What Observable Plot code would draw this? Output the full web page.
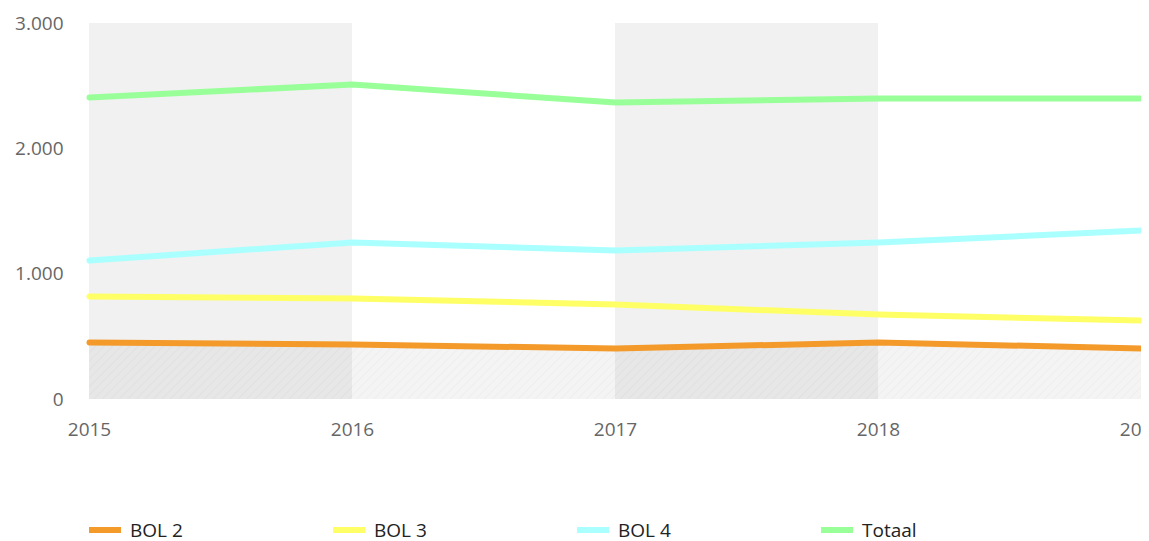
<!DOCTYPE html>
<html><head><meta charset="utf-8">
<script src="https://cdn.jsdelivr.net/npm/d3@7"></script>
<script src="https://cdn.jsdelivr.net/npm/@observablehq/plot@0.6"></script>
<style>
body{margin:0;background:#fff;font-family:"Open Sans",sans-serif;}
#wrap{width:1141px;overflow:hidden;}
#wrap svg{max-width:none !important;}
#legend{display:flex;margin-left:89px;margin-top:68px;height:24px;align-items:center;}
.item{display:flex;align-items:center;width:244px;font-size:19px;color:#222;}
.sw{width:32px;height:6px;margin-right:9px;}
</style></head><body>
<div id="wrap"></div>
<div id="legend"></div>
<script>
const years = [2015, 2016, 2017, 2018, 2019];
const series = ["BOL 2", "BOL 3", "BOL 4", "Totaal"];
const colors = ["#f39a2b", "#ffff66", "#aaffff", "#99ff99"];
const bol2 = [455, 439, 407, 455, 407];
const bol3 = [822, 806, 758, 678, 630];
const bol4 = [1109, 1253, 1189, 1253, 1348];
const totaal = [2410, 2513, 2370, 2402, 2402];
const bandStarts = [2015, 2017];
const yTicks = [0, 1000, 2000, 3000];

const values = [bol2, bol3, bol4, totaal];
const rows = [];
series.forEach((s, i) => years.forEach((y, j) => rows.push({series: s, year: y, value: values[i][j]})));
const bands = bandStarts.map(b => ({x1: b, x2: b + 1}));
const area = years.map((y, j) => ({year: y, value: bol2[j]}));
const fmt = d => d3.format(",")(d).replace(/,/g, ".");

const plot = Plot.plot({
  width: 1149, height: 450,
  marginLeft: 89, marginRight: 8, marginTop: 23, marginBottom: 51,
  style: {fontSize: "19px", fontFamily: "'Open Sans', sans-serif", color: "#666", background: "transparent"},
  x: {domain: [2015, 2019], ticks: years, tickFormat: d => String(d), tickSize: 0, tickPadding: 23, label: null},
  y: {domain: [0, 3000], ticks: yTicks, tickFormat: fmt, tickSize: 0, tickPadding: 26, label: null},
  color: {domain: series, range: colors},
  marks: [
    Plot.rect(bands, {x1: "x1", x2: "x2", y1: 0, y2: 3000, fill: "#f1f1f1"}),
    Plot.areaY(area, {x: "year", y: "value", fill: "url(#hatch)"}),
    Plot.line(rows, {x: "year", y: "value", z: "series", stroke: "series", strokeWidth: 6})
  ]
});
const ns = "http://www.w3.org/2000/svg";
const defs = document.createElementNS(ns, "defs");
defs.innerHTML = '<pattern id="hatch" patternUnits="userSpaceOnUse" width="6" height="6" patternTransform="rotate(45)"><rect width="6" height="6" fill="rgba(0,0,0,0.045)"/><line x1="0" y1="0" x2="0" y2="6" stroke="rgba(0,0,0,0.025)" stroke-width="2"/></pattern>';
plot.insertBefore(defs, plot.firstChild);
document.getElementById("wrap").appendChild(plot);

const lg = document.getElementById("legend");
series.forEach((s, i) => {
  const it = document.createElement("div"); it.className = "item";
  const sw = document.createElement("div"); sw.className = "sw"; sw.style.background = colors[i];
  const t = document.createElement("span"); t.textContent = s;
  it.appendChild(sw); it.appendChild(t); lg.appendChild(it);
});
</script></body></html>
